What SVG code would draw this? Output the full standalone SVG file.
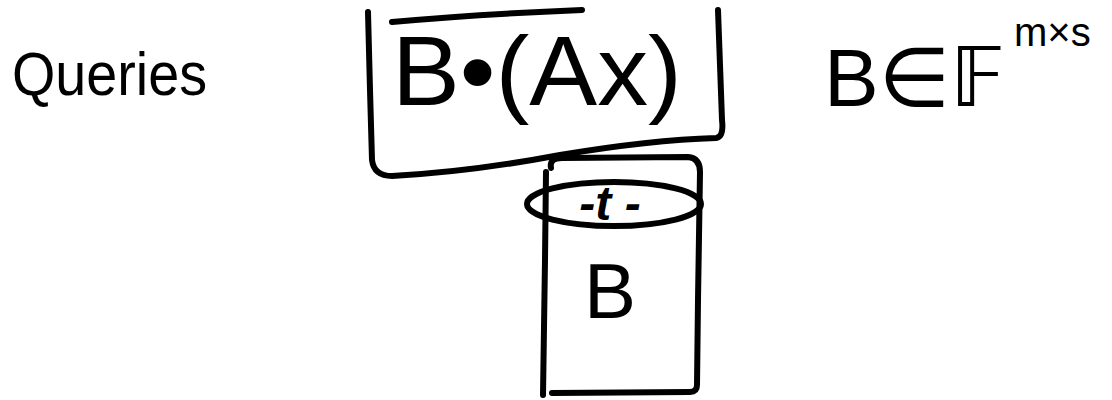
<svg xmlns="http://www.w3.org/2000/svg" width="1112" height="400" viewBox="0 0 1112 400">
<style>
.ink{fill:none;stroke:#000;stroke-width:6;stroke-linecap:round;stroke-linejoin:round}
.t{font-family:"Liberation Sans","DejaVu Sans",sans-serif;fill:#000}
</style>
<rect width="1112" height="400" fill="#fff"/>
<g id="queries-label">
<text class="t" x="12" y="95" font-size="62" textLength="195" lengthAdjust="spacingAndGlyphs">Queries</text>
</g>
<g id="query-box">
<path class="ink" d="M368,12 L370,90 L372,160 Q374,176 392,176 Q470,172 560,155 Q650,140 716,138 Q724,137 722,120 L718,10"/>
<path class="ink" d="M392,22 Q480,14 582,10"/>
<text class="t" x="392" y="105" font-size="98" textLength="290" lengthAdjust="spacingAndGlyphs">B•(Ax)</text>
</g>
<g id="field-formula">
<text class="t" x="824" y="106" font-size="82">B∈𝔽</text>
<text class="t" x="1014" y="46" font-size="40">m×s</text>
</g>
<g id="matrix-B">
<path class="ink" d="M551,168 Q549,158 562,158 L688,157 Q700,158 700,172 L698,300 L697,385 Q697,392 690,392 L552,393"/>
<path class="ink" d="M546,172 L545,260 L543,395"/>
<ellipse class="ink" cx="614" cy="204" rx="87" ry="22"/>
<text class="t" x="610" y="220" font-size="48" text-anchor="middle" font-style="italic" font-weight="bold">-t -</text>
<text class="t" x="610" y="318" font-size="78" text-anchor="middle">B</text>
</g>
<g id="connectors"></g>
</svg>
